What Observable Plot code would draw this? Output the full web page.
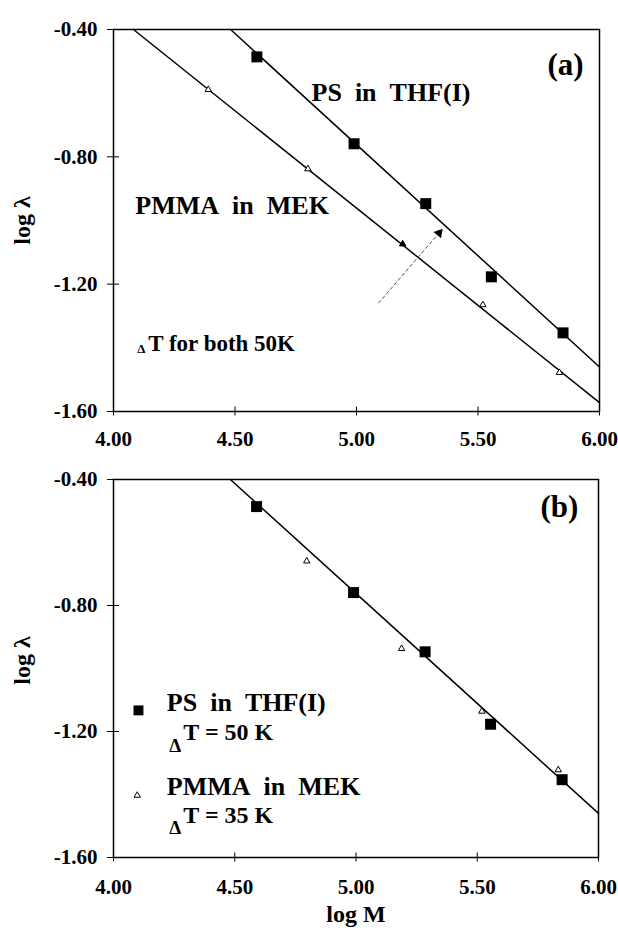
<!DOCTYPE html>
<html>
<head>
<meta charset="utf-8">
<script src="https://cdn.jsdelivr.net/npm/d3@7"></script>
<script src="https://cdn.jsdelivr.net/npm/@observablehq/plot@0.6"></script>
<style>
  body { margin: 0; background: white; }
  #chart { width: 618px; }
  #chart svg { display: block; }
</style>
</head>
<body>
<div id="chart"></div>
<script>
// ---- data ----
const xTicks = [4.0, 4.5, 5.0, 5.5, 6.0];
const yTicks = [-0.4, -0.8, -1.2, -1.6];

// PS in THF(I), dT = 50 K
const psLogM      = [4.59, 4.99, 5.285, 5.555, 5.85];
const psLogLambda = [-0.486, -0.759, -0.947, -1.177, -1.353];

// PMMA in MEK, dT = 50 K (panel a)
const pmmaLogM_a      = [4.39, 4.80, 5.19, 5.52, 5.835];
const pmmaLogLambda_a = [-0.589, -0.838, -1.074, -1.265, -1.478];

// PMMA in MEK, dT = 35 K (panel b)
const pmmaLogM_b      = [4.797, 5.188, 5.519, 5.834];
const pmmaLogLambda_b = [-0.659, -0.937, -1.136, -1.322];

// fitted straight lines (end points)
const psFitLogM        = [4.482, 6.0];
const psFitLogLambda   = [-0.4, -1.46];
const pmmaFitLogM      = [4.082, 6.0];
const pmmaFitLogLambda = [-0.4, -1.572];

// shift arrow in panel a
const arrowLogM      = [5.09, 5.35];
const arrowLogLambda = [-1.26, -1.03];

const ps   = psLogM.map((x, i) => ({x, y: psLogLambda[i]}));
const pmA  = pmmaLogM_a.map((x, i) => ({x, y: pmmaLogLambda_a[i], i}));
const pmB  = pmmaLogM_b.map((x, i) => ({x, y: pmmaLogLambda_b[i]}));
const psFit   = psFitLogM.map((x, i) => ({x, y: psFitLogLambda[i]}));
const pmmaFit = pmmaFitLogM.map((x, i) => ({x, y: pmmaFitLogLambda[i]}));
const arrow = [{x1: arrowLogM[0], y1: arrowLogLambda[0], x2: arrowLogM[1], y2: arrowLogLambda[1]}];

const font = "'Liberation Serif', 'Times New Roman', Times, serif";
const fmt = d => d.toFixed(2);

function axes(padX) {
  return [
    Plot.frame({stroke: "black", strokeWidth: 1.5}),
    Plot.axisX(xTicks, {tickSize: 9, dy: -4.5, tickFormat: () => "", label: null, strokeWidth: 1}),
    Plot.axisX(xTicks, {tickSize: 0, tickPadding: padX, tickFormat: fmt, label: null}),
    Plot.axisY(yTicks, {tickSize: 12, dx: 6, tickFormat: () => "", label: null, strokeWidth: 1}),
    Plot.axisY(yTicks, {tickSize: 0, tickPadding: 16, tickFormat: fmt, label: null})
  ];
}

const squareR = 6.2, triR = 2.4;

const plotA = Plot.plot({
  width: 618, height: 466,
  marginTop: 29, marginBottom: 55, marginLeft: 113, marginRight: 19,
  x: {domain: [4, 6]},
  y: {domain: [-1.6, -0.4]},
  style: {fontFamily: font, fontWeight: "bold", fontSize: "21px", background: "white", color: "black"},
  marks: [
    ...axes(20),
    Plot.line(psFit, {x: "x", y: "y", stroke: "black", strokeWidth: 1.5}),
    Plot.line(pmmaFit, {x: "x", y: "y", stroke: "black", strokeWidth: 1.5}),
    Plot.link(arrow, {x1: "x1", y1: "y1", x2: "x2", y2: "y2", stroke: "#555", strokeWidth: 1, strokeDasharray: "4,2"}),
    Plot.dot(arrow, {x: "x2", y: "y2", symbol: "triangle", r: 3.6, fill: "black", stroke: "none", rotate: 40, dx: -2.5, dy: 3}),
    Plot.dot(ps, {x: "x", y: "y", symbol: "square", r: squareR, fill: "black"}),
    Plot.dot(pmA, {x: "x", y: "y", symbol: "triangle", r: triR, stroke: "black", strokeWidth: 1,
      fill: d => d.i === 2 ? "black" : "white"}),
    Plot.text(["(a)"], {x: 5.86, y: -0.513, fontSize: 31, textAnchor: "middle"}),
    Plot.text(["PS\u2002in\u2002THF(I)"], {x: 4.815, y: -0.598, fontSize: 26, textAnchor: "start"}),
    Plot.text(["PMMA\u2002in\u2002MEK"], {x: 4.09, y: -0.953, fontSize: 26, textAnchor: "start"}),
    Plot.text(["\u0394"], {x: 4.098, y: -1.402, fontSize: 13, textAnchor: "start"}),
    Plot.text(["T for both 50K"], {x: 4.143, y: -1.388, fontSize: 23, textAnchor: "start"}),
    Plot.text(["log \u03bb"], {frameAnchor: "left", dx: -91, rotate: -90, fontSize: 24, textAnchor: "middle", lineAnchor: "middle"})
  ]
});

const plotB = Plot.plot({
  width: 618, height: 465,
  marginTop: 13, marginBottom: 74, marginLeft: 113, marginRight: 20,
  x: {domain: [4, 6]},
  y: {domain: [-1.6, -0.4]},
  style: {fontFamily: font, fontWeight: "bold", fontSize: "21px", background: "white", color: "black"},
  marks: [
    ...axes(22),
    Plot.line(psFit, {x: "x", y: "y", stroke: "black", strokeWidth: 1.5}),
    Plot.dot(ps, {x: "x", y: "y", symbol: "square", r: squareR, fill: "black"}),
    Plot.dot(pmB, {x: "x", y: "y", symbol: "triangle", r: triR, stroke: "black", strokeWidth: 1, fill: "white"}),
    Plot.text(["(b)"], {x: 5.839, y: -0.486, fontSize: 31, textAnchor: "middle"}),
    // legend
    Plot.dot([0], {x: 4.103, y: -1.133, symbol: "square", r: 5.6, fill: "black"}),
    Plot.text(["PS\u2002in\u2002THF(I)"], {x: 4.22, y: -1.11, fontSize: 26, textAnchor: "start"}),
    Plot.text(["\u0394"], {x: 4.23, y: -1.245, fontSize: 19, textAnchor: "start"}),
    Plot.text(["T = 50 K"], {x: 4.288, y: -1.203, fontSize: 24, textAnchor: "start"}),
    Plot.dot([0], {x: 4.098, y: -1.403, symbol: "triangle", r: triR, stroke: "black", strokeWidth: 1, fill: "white"}),
    Plot.text(["PMMA\u2002in\u2002MEK"], {x: 4.22, y: -1.376, fontSize: 26, textAnchor: "start"}),
    Plot.text(["\u0394"], {x: 4.23, y: -1.507, fontSize: 19, textAnchor: "start"}),
    Plot.text(["T = 35 K"], {x: 4.288, y: -1.467, fontSize: 24, textAnchor: "start"}),
    Plot.text(["log \u03bb"], {frameAnchor: "left", dx: -91, dy: -8, rotate: -90, fontSize: 24, textAnchor: "middle", lineAnchor: "middle"}),
    Plot.text(["log M"], {frameAnchor: "bottom", dy: 57, fontSize: 24, textAnchor: "middle", lineAnchor: "middle"})
  ]
});

const chart = document.getElementById("chart");
chart.appendChild(plotA);
chart.appendChild(plotB);
</script>
</body>
</html>
